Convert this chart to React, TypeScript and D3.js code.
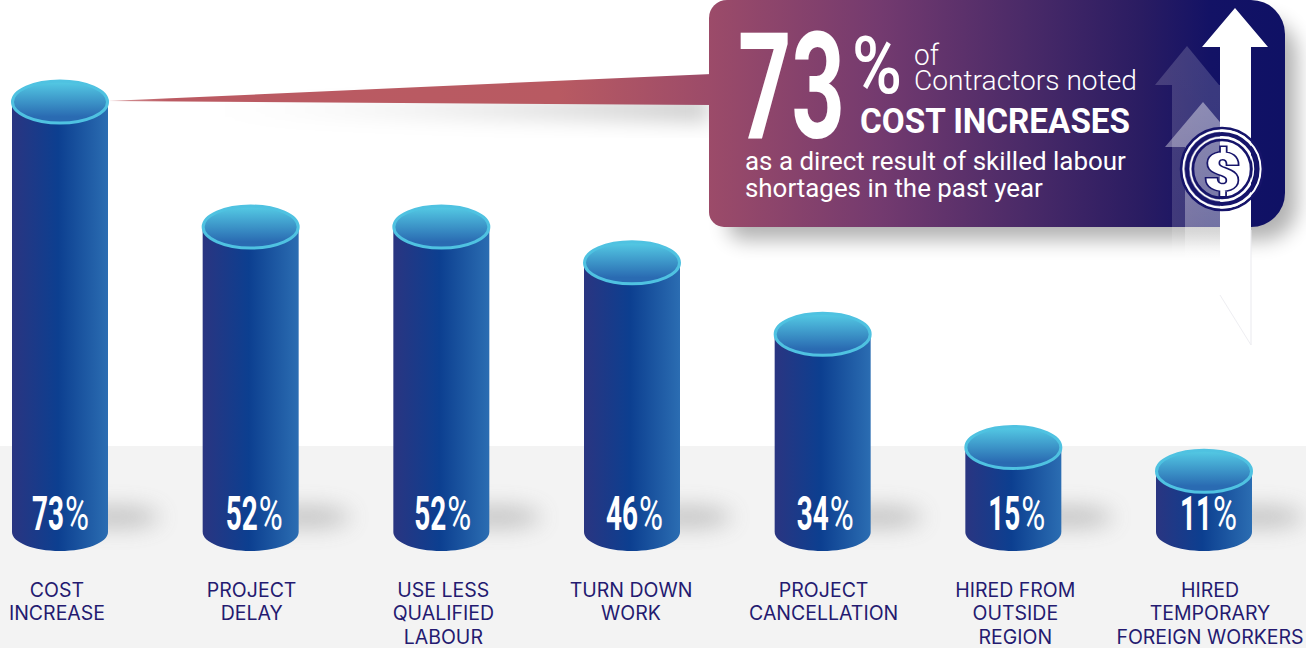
import React from "react";
import * as d3 from "d3";

// Survey results: share of contractors reporting each effect of labour shortages
const categories = [
  "Cost increase",
  "Project delay",
  "Use less qualified labour",
  "Turn down work",
  "Project cancellation",
  "Hired from outside region",
  "Hired temporary foreign workers",
];
const percentages = [73, 52, 52, 46, 34, 15, 11];
const labelLines = [
  ["COST", "INCREASE"],
  ["PROJECT", "DELAY"],
  ["USE LESS", "QUALIFIED", "LABOUR"],
  ["TURN DOWN", "WORK"],
  ["PROJECT", "CANCELLATION"],
  ["HIRED FROM", "OUTSIDE", "REGION"],
  ["HIRED", "TEMPORARY", "FOREIGN WORKERS"],
];
const labelNudges = [-3, 1, 2, -1, 1, 2, 6];
const valueNudges = [0, 3, 1, 2, 2, 3, 4];

const W = 1306;
const H = 648;
const BAR_W = 96;
const RY = 21;
const BASE_Y = 532;

const x = d3.scalePoint<string>().domain(categories).range([60, 1204]);
const y = d3.scaleLinear().domain([0, 73]).range([536.8, 102]);

const cylinderPath = (cx: number, topY: number) => {
  const rx = BAR_W / 2;
  const k = 0.5523;
  const l = cx - rx;
  const r = cx + rx;
  const p = d3.path();
  p.moveTo(l, topY);
  p.lineTo(r, topY);
  p.lineTo(r, BASE_Y);
  p.bezierCurveTo(r, BASE_Y + k * 19, cx + k * rx, BASE_Y + 19, cx, BASE_Y + 19);
  p.bezierCurveTo(cx - k * rx, BASE_Y + 19, l, BASE_Y + k * 19, l, BASE_Y);
  p.closePath();
  return p.toString();
};

// Rounded panel whose four corners use different radii
const panelPath = (l: number, t: number, r: number, b: number, tl: number, tr: number, br: number, bl: number) => {
  const p = d3.path();
  p.moveTo(l + tl, t);
  p.lineTo(r - tr, t);
  p.arcTo(r, t, r, t + tr, tr);
  p.lineTo(r, b - br);
  p.arcTo(r, b, r - br, b, br);
  p.lineTo(l + bl, b);
  p.arcTo(l, b, l, b - bl, bl);
  p.lineTo(l, t + tl);
  p.arcTo(l, t, l + tl, t, tl);
  p.closePath();
  return p.toString();
};

const arrowPath = (cx: number, tip: number, headBase: number, halfHead: number, shaftL: number, shaftR: number, end: number) =>
  d3.line()([
    [cx, tip],
    [cx + halfHead, headBase],
    [shaftR, headBase],
    [shaftR, end],
    [shaftL, end],
    [shaftL, headBase],
    [cx - halfHead, headBase],
  ]) + "Z";

const sans = "Roboto";
const navy = "#16146a";

// Condensed lettering: the installed face is narrowed horizontally to a set width
const measureCtx = document.createElement("canvas").getContext("2d")!;
function Fitted({ text, left, base, size, weight, width, fill = "#fff" }: {
  text: string; left: number; base: number; size: number; weight: number; width: number; fill?: string;
}) {
  measureCtx.font = `${weight} ${size}px ${sans}`;
  const sx = width / measureCtx.measureText(text).width;
  return (
    <text transform={`translate(${left},${base}) scale(${sx},1)`} fontFamily={`${sans}, sans-serif`} fontWeight={weight} fontSize={size} fill={fill}>
      {text}
    </text>
  );
}

export default function App() {
  return (
    <svg width={W} height={H} style={{ position: "absolute", left: 0, top: 0, display: "block", background: "#fff" }}>
      <defs>
        <linearGradient id="body" x1="0" x2="1" y1="0" y2="0">
          <stop offset="0" stopColor="#2a3581" />
          <stop offset="0.48" stopColor="#0c3f90" />
          <stop offset="1" stopColor="#2b6db2" />
        </linearGradient>
        <linearGradient id="cap" x1="0" x2="0" y1="0" y2="1">
          <stop offset="0.05" stopColor="#52c6e2" />
          <stop offset="0.85" stopColor="#2a6bb2" />
        </linearGradient>
        <linearGradient id="callout" x1="0" x2="1" y1="0" y2="0">
          <stop offset="0" stopColor="#9c4b69" />
          <stop offset="0.3" stopColor="#733a6f" />
          <stop offset="0.55" stopColor="#4a2a68" />
          <stop offset="0.75" stopColor="#2a1c62" />
          <stop offset="0.87" stopColor="#131265" />
          <stop offset="1" stopColor="#0f1165" />
        </linearGradient>
        <linearGradient id="pointer" gradientUnits="userSpaceOnUse" x1="108" x2="709" y1="0" y2="0">
          <stop offset="0" stopColor="#d9a0a2" />
          <stop offset="0.1" stopColor="#bb5a62" />
          <stop offset="0.75" stopColor="#b85a62" />
          <stop offset="1" stopColor="#9c4b69" />
        </linearGradient>
        <linearGradient id="pointerShadow" gradientUnits="userSpaceOnUse" x1="200" x2="709" y1="0" y2="0">
          <stop offset="0" stopColor="#000" stopOpacity="0" />
          <stop offset="1" stopColor="#000" stopOpacity="0.2" />
        </linearGradient>
        <linearGradient id="fadeMid" gradientUnits="userSpaceOnUse" x1="0" x2="0" y1="46" y2="300">
          <stop offset="0" stopColor="#fff" stopOpacity="0.17" />
          <stop offset="0.7" stopColor="#fff" stopOpacity="0.15" />
          <stop offset="1" stopColor="#fff" stopOpacity="0" />
        </linearGradient>
        <linearGradient id="fadeLow" gradientUnits="userSpaceOnUse" x1="0" x2="0" y1="102" y2="300">
          <stop offset="0" stopColor="#fff" stopOpacity="0.42" />
          <stop offset="0.65" stopColor="#fff" stopOpacity="0.3" />
          <stop offset="1" stopColor="#fff" stopOpacity="0" />
        </linearGradient>
        <filter id="blurWide" x="-30%" y="-60%" width="160%" height="220%">
          <feGaussianBlur stdDeviation="10" />
        </filter>
        <filter id="blurBar" x="-60%" y="-200%" width="220%" height="500%">
          <feGaussianBlur stdDeviation="11" />
        </filter>
      </defs>

      <rect x="0" y="446" width={W} height={H - 446} fill="#f3f3f3" />

      {/* soft shadows cast to the right of each cylinder */}
      {percentages.map((_, i) => {
        const cx = x(categories[i])!;
        return <ellipse key={i} cx={cx + BAR_W / 2 + 8} cy={517} rx={44} ry={10} fill="#777" opacity={0.42} filter="url(#blurBar)" />;
      })}

      {/* callout shadow */}
      <polygon points="200,108 709,96 709,122 200,112" fill="url(#pointerShadow)" filter="url(#blurWide)" />
      <path d={panelPath(728, 20, 1297, 240, 18, 34, 34, 15)} fill="#000" opacity={0.3} filter="url(#blurWide)" />

      {/* connector from the first cylinder to the callout */}
      <polygon points="108,101 712,74 712,105" fill="url(#pointer)" />

      {percentages.map((v, i) => {
        const cx = x(categories[i])!;
        const top = y(v);
        const valueLeft = cx - 28 + valueNudges[i];
        return (
          <g key={categories[i]}>
            <path d={cylinderPath(cx, top)} fill="url(#body)" />
            <ellipse cx={cx} cy={top} rx={BAR_W / 2 - 0.5} ry={RY} fill="url(#cap)" stroke="#4fc2e1" strokeWidth={3} />
            <Fitted text={String(v)} left={valueLeft} base={530} size={49} weight={700} width={32} />
            <Fitted text="%" left={valueLeft + 33} base={530} size={49} weight={400} width={24} />
            {labelLines[i].map((line, j) => (
              <text
                key={line}
                x={cx + labelNudges[i]}
                y={597 + j * 23.3}
                textAnchor="middle"
                fontFamily="Inter, sans-serif"
                fontSize={19.5}
                fill="#241a70"
              >
                {line}
              </text>
            ))}
          </g>
        );
      })}

      {/* callout panel */}
      <path d={panelPath(709, 0, 1285, 227, 18, 34, 34, 15)} fill="url(#callout)" />

      <Fitted text="73" left={738} base={138} size={148} weight={700} width={107} />
      <Fitted text="%" left={852} base={93} size={80} weight={500} width={50} />
      <Fitted text="of" left={914} base={65} size={29} weight={300} width={25} />
      <Fitted text="Contractors noted" left={914} base={90} size={28.5} weight={300} width={223} />
      <Fitted text="COST INCREASES" left={860} base={133} size={35} weight={700} width={271} />
      <Fitted text="as a direct result of skilled labour" left={745} base={170} size={26.5} weight={400} width={381} />
      <Fitted text="shortages in the past year" left={745} base={197} size={26.5} weight={400} width={298} />

      {/* rising arrows */}
      <path d={arrowPath(1187, 46, 85, 32, 1172, 1220, 300)} fill="url(#fadeMid)" />
      <path d={arrowPath(1203, 102, 147, 38, 1185, 1220, 300)} fill="url(#fadeLow)" />
      <path d={arrowPath(1235, 8, 47, 33, 1220, 1251, 345)} fill="#fff" />
      <line x1="1251" y1="230" x2="1251" y2="345" stroke="#e9e9ee" strokeWidth={1} />
      <line x1="1220" y1="295" x2="1251" y2="345" stroke="#eeeef2" strokeWidth={1} />

      {/* coin: open rings over the arrows, dollar sign in the middle */}
      <g transform="translate(1222,169)" fill="none">
        <circle r={41} stroke={navy} strokeWidth={2.5} />
        <circle r={38.6} stroke="#fff" strokeWidth={2} />
        <circle r={35} stroke={navy} strokeWidth={4} />
        <circle r={31.5} stroke="#fff" strokeWidth={1.5} />
        <circle r={29} stroke={navy} strokeWidth={2.5} />
        <text transform="translate(0,21) scale(1.2,1)" textAnchor="middle" fontFamily="Roboto, sans-serif" fontWeight={900} fontSize={52} fill="#fff" stroke={navy} strokeWidth={3} paintOrder="stroke">$</text>
      </g>
    </svg>
  );
}
